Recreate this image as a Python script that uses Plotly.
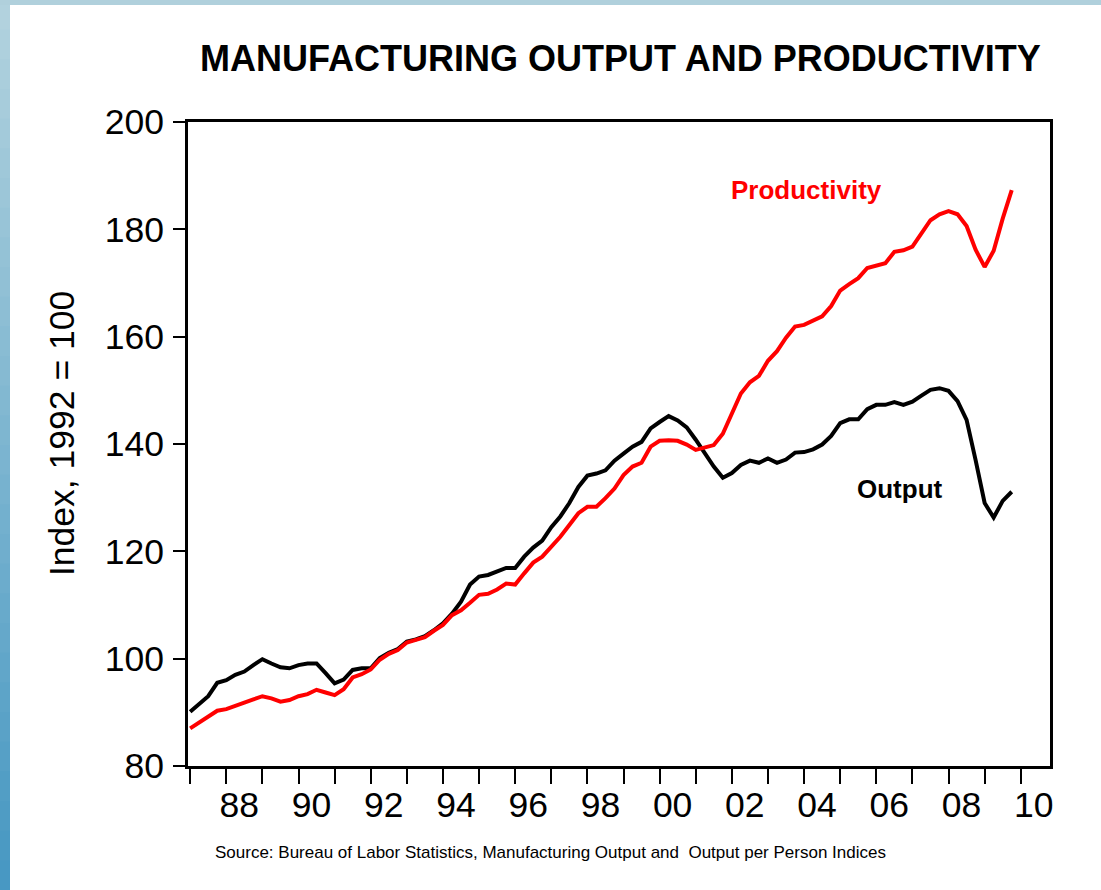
import plotly.graph_objects as go

# ---------------- data (quarterly, 1987Q1 - 2009Q4) ----------------
start_year = 1987
end_year = 2009

output_index = [
    90.1, 91.5, 93.0, 95.5,      # 1987
    96.0, 97.0, 97.6, 98.8,      # 1988
    99.9, 99.1, 98.4, 98.2,      # 1989
    98.8, 99.1, 99.1, 97.3,      # 1990
    95.4, 96.1, 97.9, 98.2,      # 1991
    98.2, 100.1, 101.1, 101.8,   # 1992
    103.2, 103.6, 104.2, 105.3,  # 1993
    106.6, 108.4, 110.6, 113.8,  # 1994
    115.3, 115.6, 116.2, 116.9,  # 1995
    116.9, 119.0, 120.7, 122.0,  # 1996
    124.5, 126.5, 129.0, 132.0,  # 1997
    134.1, 134.5, 135.1, 136.9,  # 1998
    138.2, 139.5, 140.4, 142.9,  # 1999
    144.1, 145.2, 144.4, 143.1,  # 2000
    140.8, 138.3, 135.8, 133.7,  # 2001
    134.6, 136.1, 136.9, 136.5,  # 2002
    137.3, 136.5, 137.1, 138.4,  # 2003
    138.5, 139.0, 139.9, 141.5,  # 2004
    143.9, 144.6, 144.6, 146.5,  # 2005
    147.3, 147.3, 147.8, 147.3,  # 2006
    147.9, 149.0, 150.1, 150.4,  # 2007
    149.9, 148.0, 144.5, 137.0,  # 2008
    129.0, 126.3, 129.4, 131.1,  # 2009
]

productivity_index = [
    87.0, 88.1, 89.2, 90.3,      # 1987
    90.6, 91.3, 91.8, 92.4,      # 1988
    93.0, 92.6, 92.0, 92.3,      # 1989
    93.0, 93.4, 94.2, 93.7,      # 1990
    93.2, 94.3, 96.5, 97.1,      # 1991
    98.0, 99.8, 100.9, 101.6,    # 1992
    103.0, 103.5, 104.0, 105.2,  # 1993
    106.3, 108.1, 109.0, 110.4,  # 1994
    111.9, 112.1, 112.9, 114.0,  # 1995
    113.8, 115.9, 117.9, 119.0,  # 1996
    120.9, 122.7, 124.9, 127.1,  # 1997
    128.3, 128.3, 129.9, 131.7,  # 1998
    134.2, 135.8, 136.5, 139.5,  # 1999
    140.6, 140.7, 140.6, 139.9,  # 2000
    138.9, 139.4, 139.8, 141.9,  # 2001
    145.5, 149.4, 151.5, 152.7,  # 2002
    155.5, 157.3, 159.8, 161.9,  # 2003
    162.2, 163.0, 163.8, 165.7,  # 2004
    168.6, 169.8, 170.9, 172.8,  # 2005
    173.2, 173.7, 175.8, 176.1,  # 2006
    176.8, 179.2, 181.7, 182.8,  # 2007
    183.4, 182.8, 180.6, 176.2,  # 2008
    173.0, 176.0, 182.0, 187.3,  # 2009
]

tick_years = list(range(1987, 2011))
label_years = [1988, 1990, 1992, 1994, 1996, 1998, 2000, 2002, 2004, 2006, 2008, 2010]
label_text = ["88", "90", "92", "94", "96", "98", "00", "02", "04", "06", "08", "10"]
y_ticks = [80, 100, 120, 140, 160, 180, 200]

# quarter positions as decimal years
quarters = [y + q / 4 for y in range(start_year, end_year + 1) for q in range(4)]

# ---------------- layout geometry ----------------
W, H = 1101, 890
L, R, T, B = 188, 1050, 122, 766   # plot area in pixels
FONT = "Liberation Sans, Arial, sans-serif"


def px_x(px):
    return (px - L) / (R - L)


def px_y(py):
    return (B - py) / (B - T)


fig = go.Figure()

fig.add_trace(go.Scatter(x=quarters, y=output_index, mode="lines",
                         line=dict(color="black", width=4), name="Output",
                         showlegend=False))
fig.add_trace(go.Scatter(x=quarters, y=productivity_index, mode="lines",
                         line=dict(color="#ff0000", width=4), name="Productivity",
                         showlegend=False))
# invisible trace to activate the label axis
fig.add_trace(go.Scatter(x=[label_years[0]], y=[None], xaxis="x2", yaxis="y",
                         mode="lines", showlegend=False, hoverinfo="skip"))

xr = [1986.94, 2010.81]

fig.update_layout(
    width=W, height=H,
    margin=dict(l=L, r=W - R, t=T, b=H - B, pad=0),
    paper_bgcolor="white", plot_bgcolor="white",
    font=dict(family=FONT, color="black"),
    xaxis=dict(range=xr, tickmode="array", tickvals=tick_years,
               showticklabels=False, ticks="outside", ticklen=15, tickwidth=1.5,
               tickcolor="black", showline=True, linewidth=3, linecolor="black",
               mirror=True, showgrid=False, zeroline=False),
    xaxis2=dict(range=xr, overlaying="x", anchor="y", side="bottom",
                tickmode="array", tickvals=[y + 0.36 for y in label_years],
                ticktext=label_text, ticks="outside", ticklen=7,
                tickcolor="rgba(0,0,0,0)", showline=False, showgrid=False,
                zeroline=False, tickfont=dict(size=35.5, family=FONT, color="black")),
    yaxis=dict(range=[80, 200], tickmode="array", tickvals=y_ticks,
               ticks="outside", ticklen=12, tickwidth=1.5, tickcolor="black",
               showline=True, linewidth=3, linecolor="black", mirror=True,
               showgrid=False, zeroline=False, ticklabelstandoff=2,
               tickfont=dict(size=35.5, family=FONT, color="black")),
)

annotations = [
    dict(text="<b>MANUFACTURING OUTPUT AND PRODUCTIVITY</b>", x=px_x(620), y=px_y(58),
         font=dict(size=36, family=FONT, color="black")),
    dict(text="Index, 1992 = 100", x=px_x(62), y=px_y(434), textangle=-90,
         font=dict(size=35.5, family=FONT, color="black")),
    dict(text="<b>Productivity</b>", x=px_x(806), y=px_y(190),
         font=dict(size=26, family=FONT, color="#ff0000")),
    dict(text="<b>Output</b>", x=px_x(900), y=px_y(489),
         font=dict(size=26, family=FONT, color="black")),
    dict(text="Source: Bureau of Labor Statistics, Manufacturing Output and&nbsp; Output per Person Indices",
         x=px_x(550), y=px_y(852), font=dict(size=17, family=FONT, color="black")),
]
for a in annotations:
    a.update(xref="paper", yref="paper", showarrow=False, xanchor="center", yanchor="middle")
fig.update_layout(annotations=annotations)

# slide frame: blue gradient strips on the left and top edges
shapes = []
n = 30
c_top = (178, 210, 222)
c_bot = (72, 152, 195)
for i in range(n):
    f = i / (n - 1)
    col = tuple(int(c_top[k] + (c_bot[k] - c_top[k]) * f) for k in range(3))
    y0 = H * i / n
    y1 = H * (i + 1) / n + 1
    shapes.append(dict(type="rect", xref="paper", yref="paper",
                       x0=px_x(0), x1=px_x(10), y0=px_y(y1), y1=px_y(y0),
                       fillcolor="rgb(%d,%d,%d)" % col, line=dict(width=0), layer="below"))
shapes.append(dict(type="rect", xref="paper", yref="paper",
                   x0=px_x(0), x1=px_x(W), y0=px_y(5), y1=px_y(0),
                   fillcolor="rgb(176,208,220)", line=dict(width=0), layer="below"))
fig.update_layout(shapes=shapes)

fig.write_html("out.html", config={"displayModeBar": False},
               post_script="document.body.style.margin='0';document.body.style.overflow='hidden';")
